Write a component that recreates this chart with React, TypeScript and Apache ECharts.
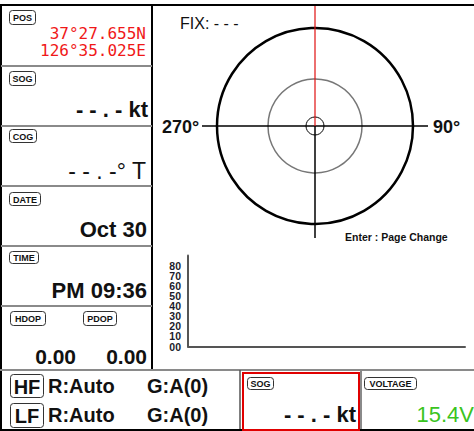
import React, { useEffect, useRef } from "react";
import * as echarts from "echarts";

const posLat = "37°27.655N";
const posLon = "126°35.025E";
const sogText = "- - . - kt";
const cogText = "- - . -° T";
const dateText = "Oct 30";
const timeText = "PM 09:36";
const hdopText = "0.00";
const pdopText = "0.00";
const fixText = "FIX: - - -";
const hfMode = ["R:Auto", "G:A(0)"];
const lfMode = ["R:Auto", "G:A(0)"];
const voltageText = "15.4V";
const compassLabels = ["270°", "90°"];
const yTicks = [0, 10, 20, 30, 40, 50, 60, 70, 80];
const snrValues: number[] = [];

const SANS = "'Liberation Sans', Arial, sans-serif";
const MONO = "'DejaVu Sans Mono', monospace";

function tag(x: number, y: number, w: number, h: number, label: string, fs = 9) {
  return {
    type: "group",
    children: [
      {
        type: "rect",
        shape: { x: x + 0.5, y: y + 0.5, width: w, height: h, r: 3 },
        style: { fill: "#fff", stroke: "#333", lineWidth: 1 },
      },
      {
        type: "text",
        style: {
          text: label,
          x: x + 0.5 + w / 2,
          y: y + 0.5 + h / 2 + 0.5,
          font: `bold ${fs}px ${SANS}`,
          fill: "#111",
          textAlign: "center",
          textVerticalAlign: "middle",
        },
      },
    ],
  };
}

function txt(text: string, x: number, y: number, font: string, fill = "#111", align = "right") {
  return {
    type: "text",
    style: { text, x, y, font, fill, textAlign: align, textVerticalAlign: "middle" },
  };
}

function hline(x1: number, x2: number, y: number, stroke: string, lw: number) {
  return { type: "line", shape: { x1, y1: y, x2, y2: y }, style: { stroke, lineWidth: lw } };
}
function vline(x: number, y1: number, y2: number, stroke: string, lw: number) {
  return { type: "line", shape: { x1: x, y1, x2: x, y2 }, style: { stroke, lineWidth: lw } };
}

export default function App() {
  const ref = useRef<HTMLDivElement>(null);
  useEffect(() => {
    document.body.style.margin = "0";
    if (!ref.current) return;
    const chart = echarts.init(ref.current, undefined, { renderer: "svg" });
    const cx = 315;
    const cy = 126;
    const gray = "#8a8a8a";
    const graphic: any[] = [
      // frame
      hline(0, 474, 5, "#000", 2),
      vline(1, 5, 431, "#000", 2),
      vline(152, 5, 370, "#000", 2),
      ...[66, 126, 186, 246, 306].map((y) => hline(1, 152, y, gray, 2)),
      hline(0, 474, 370, gray, 2),
      vline(240, 370, 431, "#555", 1.5),
      vline(361, 370, 431, gray, 2),
      hline(0, 474, 430, "#000", 2),
      {
        type: "rect",
        shape: { x: 243, y: 373, width: 116, height: 57 },
        style: { fill: "none", stroke: "#e00000", lineWidth: 2 },
      },
      // left column tags
      tag(9, 10, 26, 14, "POS"),
      tag(9, 71, 26, 14, "SOG"),
      tag(9, 129, 27, 13, "COG"),
      tag(9, 192, 31, 13, "DATE"),
      tag(9, 251, 29, 12, "TIME"),
      tag(10, 311, 35, 14, "HDOP"),
      tag(83, 311, 33, 14, "PDOP"),
      // values
      txt(posLat, 146, 33, `16px ${MONO}`, "#f01818"),
      txt(posLon, 146, 50, `16px ${MONO}`, "#f01818"),
      txt(sogText, 148, 109, `bold 22px ${SANS}`),
      txt(cogText, 146, 171, `23px ${SANS}`),
      txt(dateText, 147, 229, `bold 22px ${SANS}`),
      txt(timeText, 147, 290, `bold 22px ${SANS}`),
      txt(hdopText, 76, 356, `bold 21px ${SANS}`),
      txt(pdopText, 147, 356, `bold 21px ${SANS}`),
      // bottom
      tag(10, 374, 33, 23, "HF", 20),
      tag(10, 403, 33, 24, "LF", 20),
      txt(hfMode[0], 48, 386, `bold 20px ${SANS}`, "#111", "left"),
      txt(hfMode[1], 147, 386, `bold 20px ${SANS}`, "#111", "left"),
      txt(lfMode[0], 48, 415, `bold 20px ${SANS}`, "#111", "left"),
      txt(lfMode[1], 147, 415, `bold 20px ${SANS}`, "#111", "left"),
      tag(247, 377, 26, 12, "SOG"),
      txt(sogText, 356, 414, `bold 22px ${SANS}`),
      tag(364, 377, 52, 12, "VOLTAGE"),
      txt(voltageText, 474, 414, `22px ${SANS}`, "#3ac41e"),
      // compass
      {
        type: "circle",
        shape: { cx, cy, r: 98 },
        style: { fill: "none", stroke: "#000", lineWidth: 2.5 },
      },
      {
        type: "circle",
        shape: { cx, cy, r: 47 },
        style: { fill: "none", stroke: "#777", lineWidth: 1.5 },
      },
      {
        type: "circle",
        shape: { cx, cy, r: 9 },
        style: { fill: "none", stroke: "#000", lineWidth: 1 },
      },
      hline(202, 428, cy, "#000", 1.5),
      vline(cx, 6, cy, "#e01010", 1.2),
      vline(cx, cy, 238, "#000", 1.5),
      txt(compassLabels[0], 162, 127, `bold 18px ${SANS}`, "#111", "left"),
      txt(compassLabels[1], 433, 127, `bold 18px ${SANS}`, "#111", "left"),
      txt(fixText, 180, 23, `16px ${SANS}`, "#111", "left"),
      txt("Enter : Page Change", 345, 237, `bold 10.5px ${SANS}`, "#111", "left"),
    ];

    const yCats = [...yTicks.map((v) => String(v).padStart(2, "0")), ""];

    chart.setOption({
      animation: false,
      grid: { left: 188, right: 9, top: 255.5, bottom: 84.5 },
      xAxis: {
        type: "value",
        min: 0,
        max: 10,
        axisLine: { show: true, lineStyle: { color: "#555", width: 2 } },
        axisTick: { show: false },
        axisLabel: { show: false },
        splitLine: { show: false },
      },
      yAxis: {
        type: "category",
        data: yCats,
        boundaryGap: false,
        axisLine: { show: true, lineStyle: { color: "#555", width: 2 } },
        axisTick: { show: false },
        splitLine: { show: false },
        axisLabel: {
          interval: 0,
          margin: 7,
          fontFamily: SANS,
          fontWeight: "bold",
          fontSize: 10.5,
          lineHeight: 9,
          color: "#1c1c2c",
        },
      },
      series: [{ type: "bar", data: snrValues }],
      graphic,
    });
    return () => chart.dispose();
  }, []);
  return <div ref={ref} style={{ width: 474, height: 431 }} />;
}
